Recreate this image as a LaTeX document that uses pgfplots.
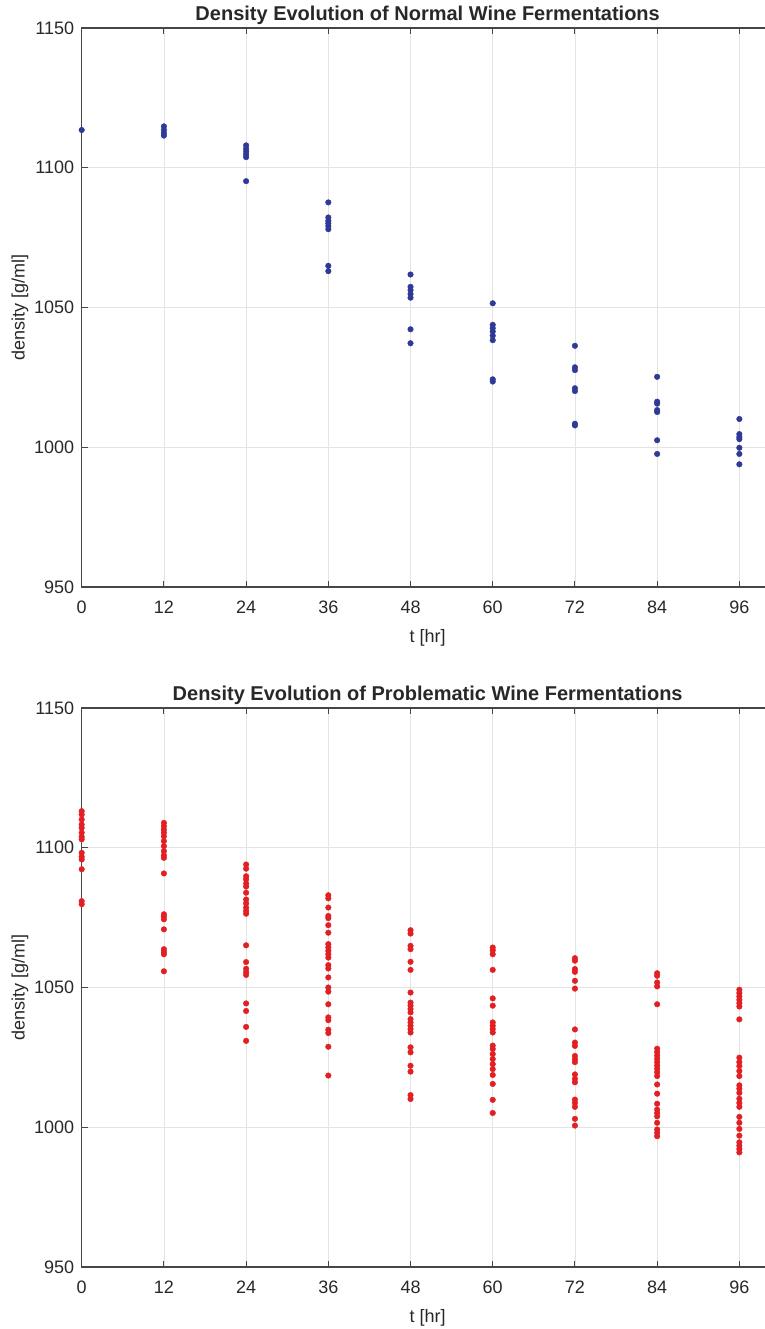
\documentclass[border=0pt]{standalone}
\usepackage{pgfplots}
\pgfplotsset{compat=1.18}
\usepackage{fontspec}
\setmainfont{Liberation Sans}
\definecolor{mblue}{RGB}{46,58,150}
\definecolor{mred}{RGB}{226,32,36}
\definecolor{axgray}{RGB}{70,70,70}
\definecolor{gridgray}{RGB}{228,228,228}
\definecolor{txtgray}{RGB}{40,40,40}

\pgfplotsset{
 mystyle/.style={
  scale only axis, width=691.9pt, height=559pt,
  xmin=0, xmax=101, ymin=950, ymax=1150,
  xtick={0,12,...,96}, ytick={950,1000,...,1150},
  grid=major, major grid style={gridgray, line width=0.8pt},
  axis line style={axgray, line width=1.3pt},
  tick style={axgray, line width=1pt},
  tick align=inside, major tick length=6pt,
  xtick pos=both, ytick pos=both,
  xticklabel pos=left, yticklabel pos=left,
  ticklabel style={font=\fontsize{18}{21}\selectfont, text=txtgray},
  xticklabel style={yshift=-10pt},
  yticklabel style={xshift=-4pt},
  /pgf/number format/assume math mode=true,
  /pgf/number format/1000 sep={},
  xlabel={t [hr]}, ylabel={density [g/ml]},
  label style={font=\fontsize{18}{21}\selectfont, text=txtgray},
  xlabel style={yshift=-9pt},
  ylabel style={yshift=-1pt},
  title style={font=\bfseries\fontsize{20}{23}\selectfont, text=txtgray, yshift=-6pt},
  mark size=2.8pt,
 }
}

\pgfplotstableread{
x y
0 1113.5
12 1114.8
12 1113.5
12 1112.4
12 1111.5
24 1108.0
24 1106.8
24 1105.8
24 1104.8
24 1103.8
24 1095.2
36 1087.6
36 1082.2
36 1081.0
36 1080.1
36 1079.1
36 1078.0
36 1064.9
36 1063.0
48 1061.8
48 1057.4
48 1056.2
48 1054.8
48 1053.5
48 1042.2
48 1037.2
60 1051.5
60 1043.8
60 1042.6
60 1041.4
60 1039.9
60 1038.3
60 1024.3
60 1023.5
72 1036.3
72 1028.6
72 1027.6
72 1021.1
72 1020.1
72 1008.4
72 1007.8
84 1025.2
84 1016.3
84 1015.6
84 1013.3
84 1012.6
84 1002.5
84 997.6
96 1010.1
96 1004.7
96 1003.7
96 1002.9
96 999.8
96 997.6
96 993.9
}\normaldata

\pgfplotstableread{
x y
0 1113.1
0 1111.9
0 1110.1
0 1108.3
0 1107.1
0 1105.4
0 1103.9
0 1103.0
0 1098.2
0 1096.8
0 1095.8
0 1092.3
0 1080.9
0 1079.8
12 1108.9
12 1107.7
12 1106.5
12 1105.4
12 1104.1
12 1102.4
12 1100.6
12 1098.8
12 1097.3
12 1096.4
12 1090.8
12 1076.2
12 1075.4
12 1074.4
12 1070.8
12 1063.7
12 1062.7
12 1061.9
12 1055.8
24 1094.0
24 1092.5
24 1089.8
24 1088.7
24 1087.2
24 1086.1
24 1083.9
24 1081.5
24 1080.1
24 1078.6
24 1077.4
24 1076.4
24 1065.1
24 1059.1
24 1056.7
24 1055.5
24 1054.5
24 1044.3
24 1041.6
24 1035.9
24 1030.9
36 1083.0
36 1081.9
36 1078.6
36 1075.6
36 1074.8
36 1072.3
36 1069.6
36 1065.5
36 1064.3
36 1063.1
36 1061.9
36 1060.7
36 1058.0
36 1056.8
36 1053.6
36 1050.0
36 1048.5
36 1044.0
36 1039.3
36 1038.3
36 1034.9
36 1033.7
36 1028.8
36 1018.5
48 1070.5
48 1069.3
48 1064.9
48 1063.7
48 1059.2
48 1056.3
48 1048.2
48 1044.6
48 1043.5
48 1042.3
48 1041.1
48 1038.7
48 1037.5
48 1036.3
48 1035.1
48 1033.9
48 1028.6
48 1026.8
48 1022.0
48 1019.9
48 1011.5
48 1010.1
60 1064.3
60 1063.3
60 1061.9
60 1056.3
60 1046.1
60 1043.5
60 1037.5
60 1036.3
60 1035.1
60 1033.9
60 1029.2
60 1028.0
60 1026.2
60 1024.4
60 1022.6
60 1020.8
60 1018.7
60 1015.5
60 1009.8
60 1005.1
72 1060.5
72 1059.6
72 1056.6
72 1055.6
72 1052.4
72 1049.6
72 1035.0
72 1030.3
72 1029.1
72 1025.5
72 1024.3
72 1023.3
72 1018.9
72 1017.3
72 1016.1
72 1009.9
72 1008.7
72 1007.3
72 1003.0
72 1000.6
84 1055.1
84 1054.2
84 1051.8
84 1050.4
84 1044.0
84 1028.1
84 1026.9
84 1025.7
84 1024.5
84 1023.3
84 1022.1
84 1020.9
84 1019.7
84 1018.3
84 1015.3
84 1012.0
84 1008.4
84 1006.3
84 1005.1
84 1003.9
84 1001.6
84 999.2
84 998.0
84 996.8
96 1049.2
96 1048.0
96 1046.8
96 1045.6
96 1044.4
96 1043.2
96 1038.6
96 1024.9
96 1023.3
96 1021.9
96 1020.1
96 1018.3
96 1015.0
96 1013.8
96 1012.3
96 1010.2
96 1008.7
96 1007.3
96 1003.7
96 1001.6
96 999.4
96 997.0
96 994.6
96 993.4
96 992.2
96 991.0
}\probdata

\begin{document}
\begin{tikzpicture}
\useasboundingbox (0pt,0pt) rectangle (764pt,1329pt);
\begin{axis}[mystyle, at={(81.7pt,742pt)}, anchor=south west,
  title={Density Evolution of Normal Wine Fermentations}]
\addplot[only marks, mark=*, mblue, mark options={fill=mblue, draw=mblue}] table[x=x,y=y] {\normaldata};
\end{axis}
\begin{axis}[mystyle, at={(81.7pt,62pt)}, anchor=south west,
  title={Density Evolution of Problematic Wine Fermentations}]
\addplot[only marks, mark=*, mred, mark options={fill=mred, draw=mred}] table[x=x,y=y] {\probdata};
\end{axis}
\end{tikzpicture}
\end{document}
